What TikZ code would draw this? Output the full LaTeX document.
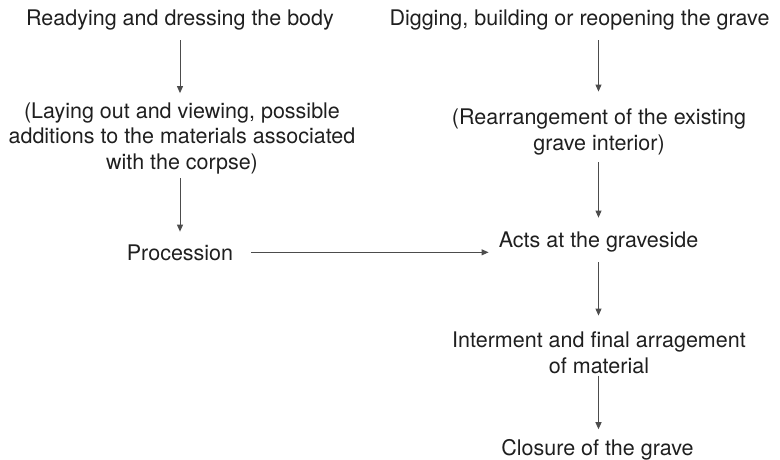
\documentclass[tikz,border=0pt]{standalone}
\usepackage{fontspec}
\setmainfont{TeX Gyre Heros}
\usetikzlibrary{arrows.meta}
\begin{document}
\begin{tikzpicture}[x=1pt,y=-1pt,
  lbl/.style={inner sep=0pt,anchor=base,align=center,font=\fontsize{21.5}{25.5}\selectfont,text=black!88},
  arr/.style={draw=black!70,line width=0.9pt,-{Triangle[length=7pt,width=6pt]}}]
\useasboundingbox (0,0) rectangle (780,460);
\node[lbl] (t1) at (180,26) {Readying and dressing the body};
\node[lbl] (t2) at (579.5,26) {Digging, building or reopening the grave};
\node[lbl] (p1) at (182,169) {(Laying out and viewing, possible\\additions to the materials associated\\with the corpse)};
\node[lbl] (p2) at (599,150) {(Rearrangement of the existing\\grave interior)};
\node[lbl] (proc) at (180,260) {Procession};
\node[lbl] (acts) at (598.5,247) {Acts at the graveside};
\node[lbl] (int) at (599,373) {Interment and final arragement\\of material};
\node[lbl] (clo) at (597.5,455) {Closure of the grave};
\draw[arr,shorten <=9.5pt,shorten >=9pt] (t1.south) -- (t1.south |- p1.north);
\draw[arr,shorten <=4.5pt,shorten >=12.5pt] (p1.south -| t1.south) -- (t1.south |- proc.north);
\draw[arr,shorten <=18pt,shorten >=10pt] (proc.east) -- (proc.east -| acts.west);
\draw[arr,shorten <=9.5pt,shorten >=17pt] (t2.south -| acts.north) -- (acts.north |- p2.north);
\draw[arr,shorten <=7.5pt,shorten >=13.5pt] (acts.north |- p2.south) -- (acts.north);
\draw[arr,shorten <=10.5pt,shorten >=16pt] (acts.south) -- (acts.south |- int.north);
\draw[arr,shorten <=2pt,shorten >=9.5pt] (acts.south |- int.south) -- (acts.south |- clo.north);
\end{tikzpicture}
\end{document}
